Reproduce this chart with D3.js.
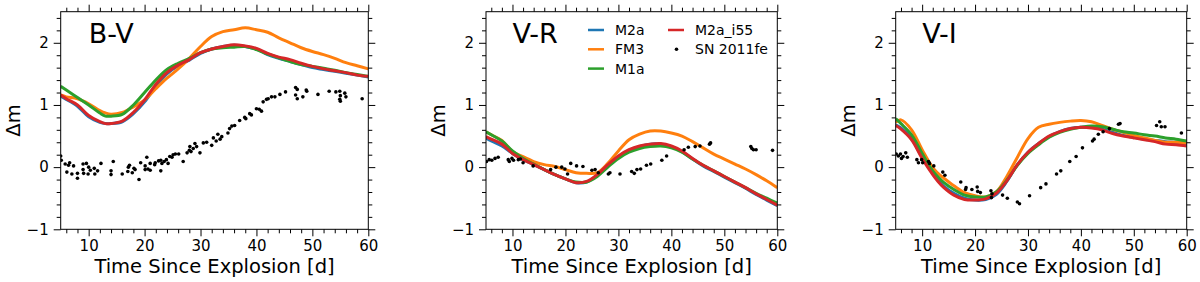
<!DOCTYPE html>
<html><head><meta charset="utf-8">
<script src="https://cdn.jsdelivr.net/npm/d3@7"></script>
<style>body{margin:0;background:#fff}svg{display:block}text{font-family:"DejaVu Sans",sans-serif}</style>
</head><body>
<svg id="c" width="1200" height="282"></svg>
<script>
const days = [5,6,8,10,12,13,14,16,18,20,22,24,26,28,30,32,34,36,38,40,42,44,46,48,50,52,54,56,58,60];
const modelNames = ["M2a","FM3","M1a","M2a_i55"];
const modelColors = ["#1f77b4","#ff7f0e","#2ca02c","#d62728"];
const panelTitles = ["B-V","V-R","V-I"];
const xTicks = [10,20,30,40,50,60];
const yTicks = [-1,0,1,2];

// B-V model curves
const bv_M2a    = [1.14,1.09,0.98,0.81,0.72,0.70,0.70,0.73,0.86,1.05,1.30,1.50,1.63,1.72,1.83,1.90,1.94,1.96,1.94,1.90,1.81,1.75,1.70,1.65,1.60,1.57,1.54,1.51,1.48,1.45];
const bv_FM3    = [1.16,1.13,1.10,1.02,0.91,0.87,0.85,0.88,0.97,1.08,1.26,1.43,1.58,1.75,1.94,2.10,2.18,2.21,2.24,2.21,2.17,2.08,2.00,1.92,1.86,1.81,1.75,1.68,1.63,1.58];
const bv_M1a    = [1.30,1.24,1.12,1.00,0.87,0.82,0.82,0.85,1.00,1.20,1.40,1.57,1.67,1.75,1.84,1.90,1.92,1.93,1.94,1.89,1.82,1.76,1.70,1.65,1.62,1.59,1.56,1.52,1.49,1.46];
const bv_M2a_i55= [1.16,1.10,1.00,0.83,0.73,0.70,0.70,0.74,0.88,1.08,1.33,1.52,1.64,1.73,1.84,1.90,1.94,1.97,1.95,1.91,1.83,1.77,1.73,1.67,1.62,1.58,1.55,1.52,1.48,1.46];
// V-R model curves
const vr_M2a    = [0.47,0.42,0.34,0.22,0.12,0.08,0.04,-0.04,-0.12,-0.19,-0.25,-0.24,-0.13,0.03,0.17,0.27,0.33,0.37,0.37,0.33,0.25,0.13,0.02,-0.07,-0.16,-0.25,-0.34,-0.44,-0.53,-0.62];
const vr_FM3    = [0.57,0.52,0.43,0.25,0.17,0.13,0.09,0.04,0.01,-0.04,-0.09,-0.10,-0.09,0.06,0.26,0.44,0.53,0.58,0.58,0.55,0.50,0.41,0.31,0.21,0.13,0.05,-0.03,-0.12,-0.22,-0.33];
const vr_M1a    = [0.57,0.52,0.42,0.26,0.14,0.09,0.05,-0.04,-0.12,-0.19,-0.24,-0.24,-0.15,0.00,0.14,0.24,0.30,0.33,0.34,0.31,0.24,0.13,0.03,-0.06,-0.15,-0.24,-0.33,-0.42,-0.50,-0.58];
const vr_M2a_i55= [0.49,0.45,0.37,0.22,0.12,0.08,0.04,-0.04,-0.12,-0.19,-0.25,-0.23,-0.12,0.04,0.18,0.28,0.34,0.37,0.38,0.34,0.26,0.14,0.03,-0.06,-0.15,-0.24,-0.33,-0.43,-0.52,-0.61];
// V-I model curves
const vi_M2a    = [0.68,0.63,0.46,0.16,-0.10,-0.21,-0.30,-0.42,-0.50,-0.53,-0.52,-0.44,-0.23,0.04,0.24,0.38,0.49,0.57,0.62,0.64,0.64,0.61,0.56,0.51,0.48,0.45,0.43,0.41,0.40,0.38];
const vi_FM3    = [0.72,0.76,0.60,0.28,-0.01,-0.10,-0.17,-0.30,-0.41,-0.46,-0.48,-0.40,-0.15,0.16,0.46,0.64,0.69,0.72,0.74,0.75,0.73,0.67,0.61,0.56,0.51,0.47,0.43,0.40,0.40,0.39];
const vi_M1a    = [0.78,0.70,0.52,0.22,-0.06,-0.16,-0.24,-0.36,-0.45,-0.48,-0.48,-0.40,-0.21,0.03,0.22,0.36,0.48,0.56,0.61,0.64,0.66,0.65,0.61,0.57,0.55,0.52,0.50,0.47,0.45,0.42];
const vi_M2a_i55= [0.67,0.61,0.44,0.14,-0.12,-0.23,-0.32,-0.45,-0.52,-0.53,-0.51,-0.42,-0.22,0.04,0.24,0.38,0.50,0.57,0.62,0.64,0.63,0.60,0.54,0.50,0.47,0.44,0.41,0.37,0.36,0.34];

// SN 2011fe observed colours [day, mag]
const bv_obs = [[5.0,0.18],[5.1,0.11],[5.8,0.05],[6.1,-0.08],[6.4,0.03],[6.6,0.07],[7.0,-0.11],[7.3,0.02],[8.0,-0.1],[8.0,-0.18],[9.0,0.05],[9.0,-0.04],[9.1,-0.10],[9.6,0.06],[9.9,-0.11],[10.0,0.0],[10.3,-0.05],[11.0,-0.02],[11.1,-0.11],[11.6,-0.06],[12.2,0.06],[14.0,-0.06],[14.0,-0.12],[14.4,0.09],[16.0,-0.11],[17.0,-0.07],[17.1,0.0],[17.3,0.03],[17.8,-0.09],[18.1,-0.02],[18.3,-0.04],[19.0,-0.2],[19.3,0.07],[20.1,0.02],[20.4,0.16],[20.1,-0.04],[20.6,-0.03],[21.0,0.06],[21.0,-0.05],[21.8,0.04],[21.9,0.07],[22.5,0.1],[22.9,0.11],[22.9,-0.06],[23.1,0.06],[23.5,0.09],[23.9,0.12],[24.2,0.06],[24.5,0.17],[24.9,0.16],[25.1,0.2],[25.5,0.21],[26.1,0.21],[26.9,0.09],[27.6,0.23],[28.0,0.27],[28.1,0.33],[28.3,0.25],[28.7,0.3],[29.0,0.38],[29.3,0.33],[29.9,0.23],[30.5,0.39],[31.1,0.40],[32.0,0.35],[32.3,0.47],[32.8,0.42],[33.1,0.53],[33.5,0.45],[33.8,0.49],[34.9,0.55],[35.2,0.62],[35.6,0.66],[36.1,0.67],[37.0,0.75],[37.9,0.80],[38.1,0.78],[38.8,0.86],[39.1,0.84],[40.0,0.94],[40.5,0.93],[40.9,0.90],[41.2,1.05],[41.8,1.09],[42.1,1.10],[42.7,1.13],[43.3,1.13],[44.2,1.17],[45.2,1.21],[47.0,1.28],[47.3,1.25],[47.0,1.16],[47.3,1.10],[48.3,1.13],[48.9,1.24],[49.0,1.22],[51.0,1.17],[53.0,1.22],[54.2,1.21],[54.9,1.22],[55.0,1.15],[54.9,1.09],[55.0,1.06],[55.8,1.19],[56.0,1.13],[58.9,1.10]];
const vr_obs = [[5.1,0.09],[5.6,0.12],[6.1,0.11],[6.7,0.14],[7.3,0.16],[9.2,0.12],[9.4,0.09],[9.9,0.14],[10.2,0.11],[11.1,0.12],[11.5,0.13],[12.0,0.07],[13.9,0.02],[17.2,-0.04],[18.2,0.0],[19.3,0.0],[19.9,-0.03],[20.4,-0.11],[21.0,0.06],[22.1,0.02],[23.3,0.01],[25.0,-0.05],[25.6,-0.04],[26.2,-0.09],[28.1,-0.11],[28.4,-0.09],[30.3,-0.11],[32.5,-0.07],[33.0,-0.10],[33.5,-0.04],[34.2,-0.03],[35.3,0.03],[36.1,0.05],[38.2,0.11],[39.1,0.18],[42.4,0.28],[43.2,0.32],[44.5,0.33],[45.4,0.34],[47.2,0.37],[47.4,0.39],[55.0,0.33],[55.2,0.30],[55.5,0.28],[56.0,0.28],[59.1,0.27]];
const vi_obs = [[5.1,0.21],[5.5,0.18],[5.9,0.21],[6.1,0.14],[6.4,0.17],[6.9,0.23],[7.2,0.16],[9.0,0.12],[9.3,0.07],[9.9,0.12],[10.1,0.07],[11.2,0.09],[11.4,0.06],[12.2,0.02],[13.9,-0.08],[14.3,-0.13],[17.3,-0.24],[18.3,-0.33],[18.2,-0.36],[19.4,-0.36],[20.4,-0.32],[20.5,-0.39],[21.0,-0.41],[23.0,-0.38],[23.2,-0.43],[23.1,-0.49],[25.2,-0.45],[26.1,-0.50],[28.0,-0.56],[28.4,-0.59],[30.3,-0.46],[32.4,-0.33],[33.4,-0.27],[35.4,-0.11],[36.2,-0.06],[37.9,0.09],[39.1,0.17],[40.3,0.31],[42.2,0.42],[42.5,0.45],[43.3,0.53],[44.2,0.57],[45.4,0.62],[47.1,0.69],[47.4,0.70],[54.3,0.67],[54.9,0.73],[55.2,0.65],[55.9,0.65],[59.0,0.55]];

const panelModels = [
  [bv_M2a,bv_FM3,bv_M1a,bv_M2a_i55],
  [vr_M2a,vr_FM3,vr_M1a,vr_M2a_i55],
  [vi_M2a,vi_FM3,vi_M1a,vi_M2a_i55]
];
const panelObs = [bv_obs, vr_obs, vi_obs];
const panelBox = [[60.7,368.3],[486,777.3],[895.7,1186.7]];
const plotTop = 11.7, plotBottom = 229.3;

const svg = d3.select("#c");
const FONT = '"DejaVu Sans", sans-serif';

panelBox.forEach((b, i) => {
  const x = d3.scaleLinear().domain([5,60]).range([b[0], b[1]]);
  const y = d3.scaleLinear().domain([-1,2.5]).range([plotBottom, plotTop]);
  const g = svg.append("g");

  const clip = "clip" + i;
  svg.append("clipPath").attr("id", clip).append("rect")
    .attr("x", b[0]).attr("y", plotTop).attr("width", b[1]-b[0]).attr("height", plotBottom-plotTop);

  const xMinor = d3.range(6, 60, 2).filter(v => v % 10 !== 0);
  const yMinor = d3.range(-1, 2.5, 0.2).map(v => +v.toFixed(1)).filter(v => Math.abs(v - Math.round(v)) > 1e-6);

  const styleAxis = (sel) => {
    sel.select(".domain").remove();
    sel.selectAll("line").attr("stroke", "#000").attr("stroke-width", 1);
  };
  g.append("g").attr("transform", `translate(0,${plotBottom})`)
    .call(d3.axisBottom(x).tickValues(xTicks).tickSize(7).tickPadding(4.5).tickFormat(d3.format("d")))
    .call(styleAxis)
    .selectAll("text").attr("font-size", 15).attr("font-family", FONT).attr("fill", "#000");
  g.append("g").attr("transform", `translate(0,${plotBottom})`)
    .call(d3.axisBottom(x).tickValues(xMinor).tickSize(4).tickFormat(""))
    .call(styleAxis);
  g.append("g").attr("transform", `translate(0,${plotTop})`)
    .call(d3.axisTop(x).tickValues(xTicks).tickSize(7).tickFormat(""))
    .call(styleAxis);
  g.append("g").attr("transform", `translate(0,${plotTop})`)
    .call(d3.axisTop(x).tickValues(xMinor).tickSize(4).tickFormat(""))
    .call(styleAxis);
  g.append("g").attr("transform", `translate(${b[0]},0)`)
    .call(d3.axisLeft(y).tickValues(yTicks).tickSize(7).tickPadding(5).tickFormat(d => d < 0 ? "\u2212" + Math.abs(d) : d))
    .call(styleAxis)
    .selectAll("text").attr("font-size", 15).attr("font-family", FONT).attr("fill", "#000");
  g.append("g").attr("transform", `translate(${b[0]},0)`)
    .call(d3.axisLeft(y).tickValues(yMinor).tickSize(4).tickFormat(""))
    .call(styleAxis);
  g.append("g").attr("transform", `translate(${b[1]},0)`)
    .call(d3.axisRight(y).tickValues(yTicks).tickSize(7).tickFormat(""))
    .call(styleAxis);
  g.append("g").attr("transform", `translate(${b[1]},0)`)
    .call(d3.axisRight(y).tickValues(yMinor).tickSize(4).tickFormat(""))
    .call(styleAxis);

  const pg = g.append("g").attr("clip-path", `url(#${clip})`);
  const line = d3.line().x((d, k) => x(days[k])).y(d => y(d)).curve(d3.curveCatmullRom.alpha(0.5));
  panelModels[i].forEach((ser, k) => {
    pg.append("path").datum(ser).attr("d", line)
      .attr("fill", "none").attr("stroke", modelColors[k]).attr("stroke-width", 3)
      .attr("stroke-linejoin", "round");
  });
  pg.selectAll("circle").data(panelObs[i]).enter().append("circle")
    .attr("cx", d => x(d[0])).attr("cy", d => y(d[1])).attr("r", 1.8).attr("fill", "#000");

  g.append("rect").attr("x", b[0]).attr("y", plotTop).attr("width", b[1]-b[0]).attr("height", plotBottom-plotTop)
    .attr("fill", "none").attr("stroke", "#000").attr("stroke-width", 1);

  g.append("text").attr("x", x(10)).attr("y", y(2.0)).attr("font-size", 27).attr("font-family", FONT)
    .text(panelTitles[i]);
  g.append("text").attr("x", (b[0]+b[1])/2).attr("y", 273.4).attr("text-anchor", "middle")
    .attr("font-size", 19.5).attr("font-family", FONT).text("Time Since Explosion [d]");
  g.append("text").attr("transform", `translate(${b[0]-41},${(plotTop+plotBottom)/2}) rotate(-90)`)
    .attr("text-anchor", "middle").attr("font-size", 19.5).attr("font-family", FONT).text("\u0394m");
});

const legend = svg.append("g");
const legItems = [
  {name: modelNames[0], color: modelColors[0], x: 588, y: 30},
  {name: modelNames[1], color: modelColors[1], x: 588, y: 49.3},
  {name: modelNames[2], color: modelColors[2], x: 588, y: 68.6},
  {name: modelNames[3], color: modelColors[3], x: 668, y: 30}
];
legItems.forEach(it => {
  legend.append("line").attr("x1", it.x).attr("x2", it.x + 16).attr("y1", it.y).attr("y2", it.y)
    .attr("stroke", it.color).attr("stroke-width", 2.5);
  legend.append("text").attr("x", it.x + 27).attr("y", it.y).attr("dy", "0.35em")
    .attr("font-size", 14).attr("font-family", FONT).text(it.name);
});
legend.append("circle").attr("cx", 676.5).attr("cy", 49.3).attr("r", 1.8).attr("fill", "#000");
legend.append("text").attr("x", 695).attr("y", 49.3).attr("dy", "0.35em")
  .attr("font-size", 14).attr("font-family", FONT).text("SN 2011fe");
</script>
</body></html>
